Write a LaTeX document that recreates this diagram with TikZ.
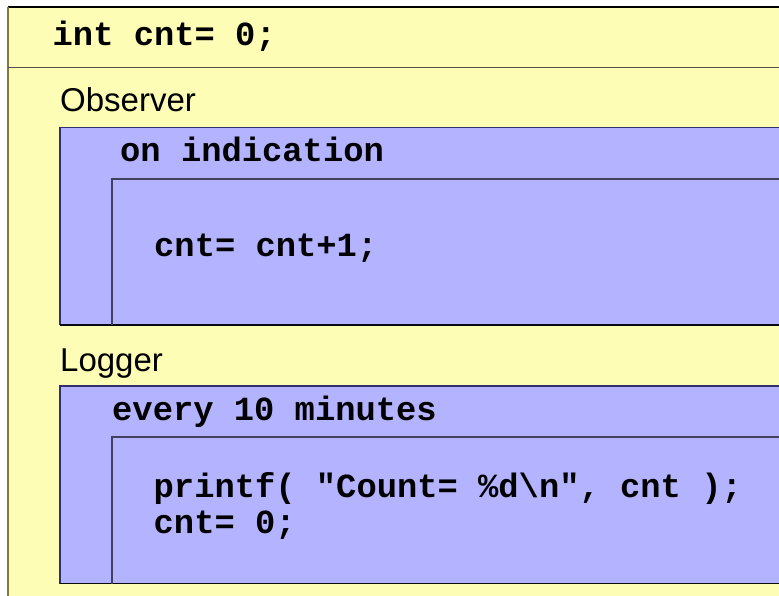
\documentclass[tikz,border=0pt]{standalone}
\usepackage{fontspec}
\setmainfont{Liberation Sans}
\newfontfamily\codefont{Liberation Mono}
\definecolor{paleyellow}{RGB}{253,253,181}
\definecolor{paleblue}{RGB}{179,179,255}
\definecolor{olive}{RGB}{128,120,64}
\definecolor{navy}{RGB}{48,48,112}
\definecolor{divider}{RGB}{80,80,72}
\definecolor{innerline}{RGB}{64,64,96}
\tikzset{
  code/.style={anchor=base west, inner sep=0pt, font=\codefont\bfseries\fontsize{33.8}{33.8}\selectfont},
  label/.style={anchor=base west, inner sep=0pt, font=\fontsize{33}{33}\selectfont},
  edge/.style={line width=1.6pt},
}
\begin{document}
\begin{tikzpicture}[x=1pt,y=-1pt]
\useasboundingbox (0,0) rectangle (779,596);
% outer frame with header
\fill[white] (0,0) rectangle (779,596);
\fill[paleyellow] (8,7) rectangle (785,600);
\draw[edge,black] (8,7) -- (785,7);
\draw[edge,olive] (8,7) -- (8,600);
\draw[edge,divider] (8,67.5) -- (785,67.5);
\node[code] (decl) at (52.5,45.5) {int cnt= 0;};

% Observer block
\node[label] (obs) at (60,112) {Observer};
\fill[paleblue] (60,127.5) rectangle (785,325);
\draw[edge,navy] (785,127.5) -- (60,127.5) -- (60,325);
\draw[edge,black!80!navy] (60,325) -- (785,325);
\draw[edge,innerline] (112,325) -- (112,179) -- (785,179);
\node[code] (obstrig) at (120,162) {on indication};
\node[code] (obsbody) at (154,256) {cnt= cnt+1;};

% Logger block
\node[label] (log) at (60,371) {Logger};
\fill[paleblue] (60,386) rectangle (785,583.5);
\draw[edge,navy] (785,386) -- (60,386) -- (60,583.5);
\draw[edge,black!80!navy] (60,583.5) -- (785,583.5);
\draw[edge,innerline] (112,583.5) -- (112,437) -- (785,437);
\node[code] (logtrig) at (112,420) {every 10 minutes};
\node[code] (logbodya) at (153.5,497) {printf( "Count= \%d\textbackslash n", cnt );};
\node[code] (logbodyb) at (153.5,533) {cnt= 0;};
\end{tikzpicture}
\end{document}
